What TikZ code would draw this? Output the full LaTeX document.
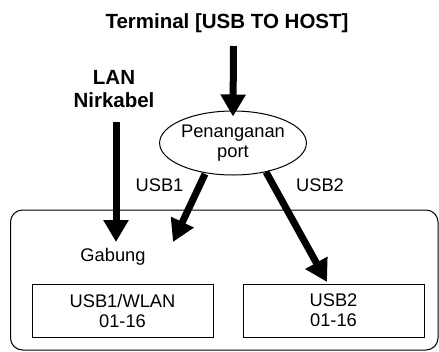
\documentclass[tikz,border=0pt]{standalone}
\usepackage{fontspec}
\setmainfont{Liberation Sans}
\usetikzlibrary{arrows.meta,shapes.geometric}
\tikzset{
  normtext/.style={font=\fontsize{18.3}{20}\selectfont, align=center, inner sep=0pt},
  boldtext/.style={font=\fontsize{20.5}{23}\selectfont\bfseries, align=center, inner sep=0pt},
  bigarrow/.style={line width=7pt, -{Triangle[length=22pt,width=24pt]}},
  chanbox/.style={draw, line width=1pt, minimum width=181pt, minimum height=53pt, normtext},
}
\begin{document}
\begin{tikzpicture}[x=1pt,y=-1pt]
\useasboundingbox (0,0) rectangle (439,351);
\draw[line width=1pt, rounded corners=12pt] (10.5,210) rectangle (438,350);
\node[boldtext] (title) at (227,23) {Terminal [USB TO HOST]};
\node[boldtext] (lan) at (114,89) {LAN\\Nirkabel};
\node[draw, ellipse, line width=1pt, minimum width=130pt, minimum height=64pt, normtext] (port) at (233,143) {Penanganan\\port};
\node[normtext] (usb1) at (159.5,185) {USB1};
\node[normtext] (usb2) at (320,185) {USB2};
\node[normtext] (gab) at (113,257) {Gabung};
\node[chanbox] (box1) at (122.5,310.5) {USB1/WLAN\\01-16};
\node[chanbox] (box2) at (333.5,310.5) {USB2\\01-16};
\coordinate (t1) at (233.5,46);
\coordinate (l1) at (116,122);
\coordinate (l2) at (116,242);
\coordinate (u1s) at (205,174);
\coordinate (u1e) at (173,242);
\coordinate (u2s) at (266,172);
\coordinate (u2e) at (327,282);
\draw[bigarrow] (t1) -- ([yshift=-6pt]port.north);
\draw[bigarrow] (l1) -- (l2);
\draw[bigarrow] (u1s) -- (u1e);
\draw[bigarrow] (u2s) -- (u2e);
\end{tikzpicture}
\end{document}
